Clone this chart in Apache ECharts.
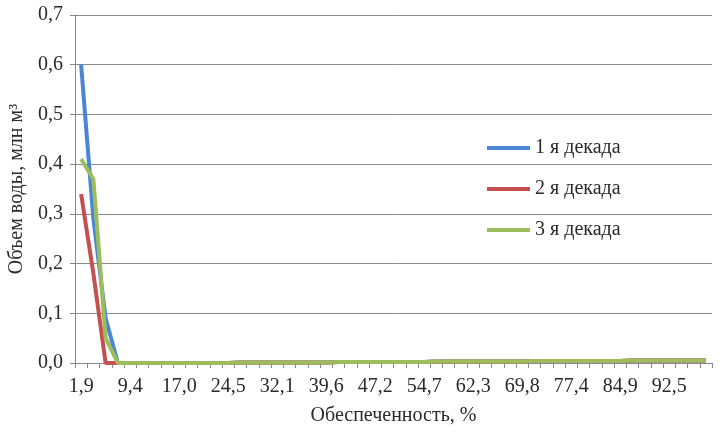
<!DOCTYPE html>
<html><head><meta charset="utf-8">
<script src="https://cdn.jsdelivr.net/npm/echarts@6/dist/echarts.min.js"></script>
<style>html,body{margin:0;padding:0;background:#fff}#c{width:720px;height:434px}</style>
</head><body><div id="c"></div>
<script>
var categories = ['1,9','3,8','5,7','7,5','9,4','11,3','13,2','15,1','17,0','18,9','20,8','22,6','24,5','26,4','28,3','30,2','32,1','34,0','35,8','37,7','39,6','41,5','43,4','45,3','47,2','49,1','50,9','52,8','54,7','56,6','58,5','60,4','62,3','64,2','66,0','67,9','69,8','71,7','73,6','75,5','77,4','79,2','81,1','83,0','84,9','86,8','88,7','90,6','92,5','94,3','96,2','98,1'];
var tail = [0,0,0,0,0,0,0,0,0,0,0.001,0.001,0.001,0.001,0.001,0.001,0.001,0.001,0.002,0.002,0.002,0.002,0.002,0.002,0.002,0.002,0.003,0.003,0.003,0.003,0.003,0.003,0.003,0.003,0.004,0.004,0.004,0.004,0.004,0.004,0.004,0.004,0.005,0.005,0.005,0.005,0.005,0.005,0.005];
var decade1 = [0.60, 0.29, 0.09].concat(tail);
var decade2 = [0.34, 0.18, 0.00].concat(tail);
var decade3 = [0.41, 0.37, 0.05].concat(tail);
var seriesNames = ['1 я декада','2 я декада','3 я декада'];
var colors = ['#4A85D6','#C4504F','#9DBD5A'];
var font = "'Liberation Serif','Times New Roman',serif";
var chart = echarts.init(document.getElementById('c'));
var mk = function(name, data, color){
  return {name:name, type:'line', data:data, symbol:'none', smooth:false,
    lineStyle:{width:4, color:color}, itemStyle:{color:color}};
};
chart.setOption({
  animation:false,
  backgroundColor:'#fff',
  textStyle:{fontFamily:font},
  grid:{left:75, right:8, top:15, bottom:71, containLabel:false, outerBoundsMode:'none'},
  legend:{orient:'vertical', left:482, top:133, itemWidth:43, itemHeight:4, itemGap:21, icon:'rect',
    textStyle:{fontFamily:font, fontSize:20, color:'#2a2a2a'}, data:seriesNames},
  xAxis:{type:'category', data:categories, boundaryGap:true,
    name:'Обеспеченность, %', nameLocation:'middle', nameGap:43,
    nameTextStyle:{fontFamily:font, fontSize:20, color:'#2a2a2a'},
    axisLine:{lineStyle:{color:'#888', width:1}},
    axisTick:{show:true, interval:0, length:5, lineStyle:{color:'#888'}},
    axisLabel:{interval:3, margin:14, fontFamily:font, fontSize:20, color:'#2a2a2a'},
    splitLine:{show:false}},
  yAxis:{type:'value', min:0, max:0.7, interval:0.1,
    name:'Объем воды, млн м³', nameLocation:'middle', nameGap:45,
    nameTextStyle:{fontFamily:font, fontSize:20, color:'#2a2a2a'},
    axisLine:{show:true, lineStyle:{color:'#888', width:1}},
    axisTick:{show:true, length:5, lineStyle:{color:'#888'}},
    axisLabel:{margin:12, fontFamily:font, fontSize:20, color:'#2a2a2a',
      formatter:function(v){return v.toFixed(1).replace('.', ',');}},
    splitLine:{show:true, lineStyle:{color:'#8a8a8a', width:1}}},
  series:[mk(seriesNames[0], decade1, colors[0]), mk(seriesNames[1], decade2, colors[1]), mk(seriesNames[2], decade3, colors[2])]
});
</script></body></html>
